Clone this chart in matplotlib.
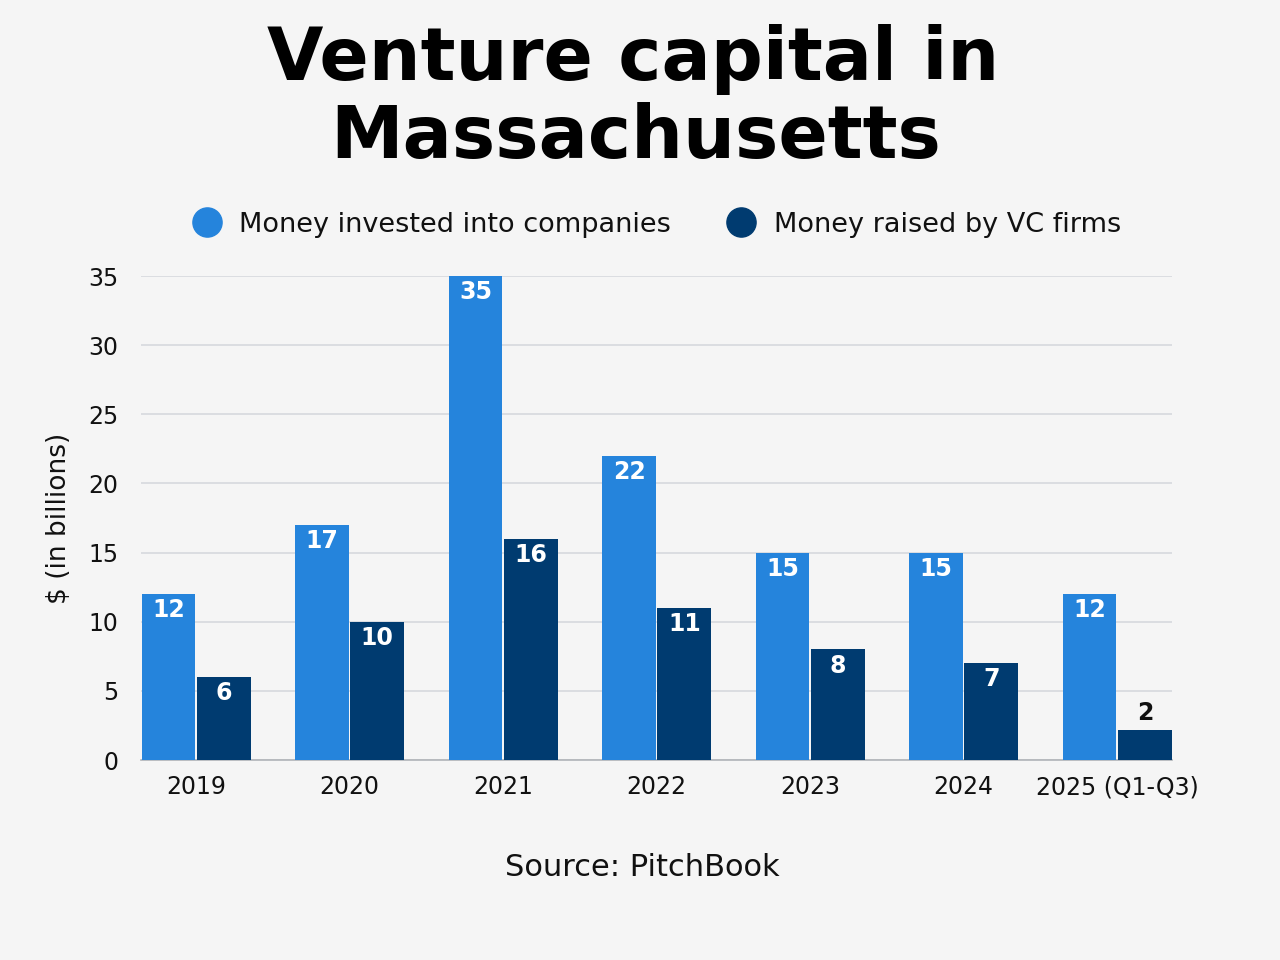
import numpy as np
import matplotlib.pyplot as plt
from matplotlib.lines import Line2D

# data
years = ['2019', '2020', '2021', '2022', '2023', '2024', '2025 (Q1-Q3)']
invested = [12, 17, 35, 22, 15, 15, 12]
raised = [6, 10, 16, 11, 8, 7, 2.2]
yticks = [0, 5, 10, 15, 20, 25, 30, 35]

c_light = '#2584dc'
c_dark = '#003b70'
bg = '#f5f5f5'
txt = '#111111'

plt.rcParams['font.family'] = ['DejaVu Sans']

fig = plt.figure(figsize=(12.8, 9.6), dpi=100, facecolor=bg)
ax = fig.add_axes([0.110, 0.2083, 0.806, 0.5042], facecolor=bg)

x = np.arange(len(years))
w = 0.35
b1 = ax.bar(x - 0.18, invested, width=w, color=c_light, zorder=3)
b2 = ax.bar(x + 0.18, raised, width=w, color=c_dark, zorder=3)

# value labels
for bar, v in zip(b1, invested):
    ax.text(bar.get_x() + bar.get_width() / 2, v - 0.3, f'{round(v)}',
            ha='center', va='top', color='white', fontsize=17, fontweight='bold', zorder=4)
for bar, v in zip(b2, raised):
    if v < 4:
        ax.text(bar.get_x() + bar.get_width() / 2, v + 0.3, f'{round(v)}',
                ha='center', va='bottom', color=txt, fontsize=17, fontweight='bold', zorder=4)
    else:
        ax.text(bar.get_x() + bar.get_width() / 2, v - 0.3, f'{round(v)}',
                ha='center', va='top', color='white', fontsize=17, fontweight='bold', zorder=4)

ax.set_xlim(-0.36, 6.36)
ax.set_ylim(0, 35)
ax.set_yticks(yticks)
ax.set_xticks(x)
ax.set_xticklabels(years)
ax.tick_params(axis='both', length=0, labelsize=17, labelcolor=txt)
ax.tick_params(axis='x', pad=11)
ax.tick_params(axis='y', pad=16)
ax.grid(axis='y', color='#d6d9dd', linewidth=1.2, zorder=0)
for s in ['top', 'right', 'left']:
    ax.spines[s].set_visible(False)
ax.spines['bottom'].set_color('#b0b4b8')
ax.spines['bottom'].set_linewidth(1.2)
ax.set_ylabel('$ (in billions)', fontsize=19, color=txt, labelpad=12)

fig.text(0.495, 0.938, 'Venture capital in', ha='center', va='center',
         fontsize=52.5, fontweight='bold', color='black')
fig.text(0.497, 0.857, 'Massachusetts', ha='center', va='center',
         fontsize=52.5, fontweight='bold', color='black')

handles = [Line2D([], [], marker='o', linestyle='', markersize=21, color=c_light),
           Line2D([], [], marker='o', linestyle='', markersize=21, color=c_dark)]
fig.legend(handles, ['Money invested into companies', 'Money raised by VC firms'],
           loc='center', bbox_to_anchor=(0.508, 0.766), ncol=2, frameon=False,
           fontsize=19.5, handletextpad=0.2, columnspacing=1.6, labelcolor=txt)

fig.text(0.502, 0.096, 'Source: PitchBook', ha='center', va='center',
         fontsize=22, color=txt)

fig.savefig('out.png', dpi=100, facecolor=bg)
